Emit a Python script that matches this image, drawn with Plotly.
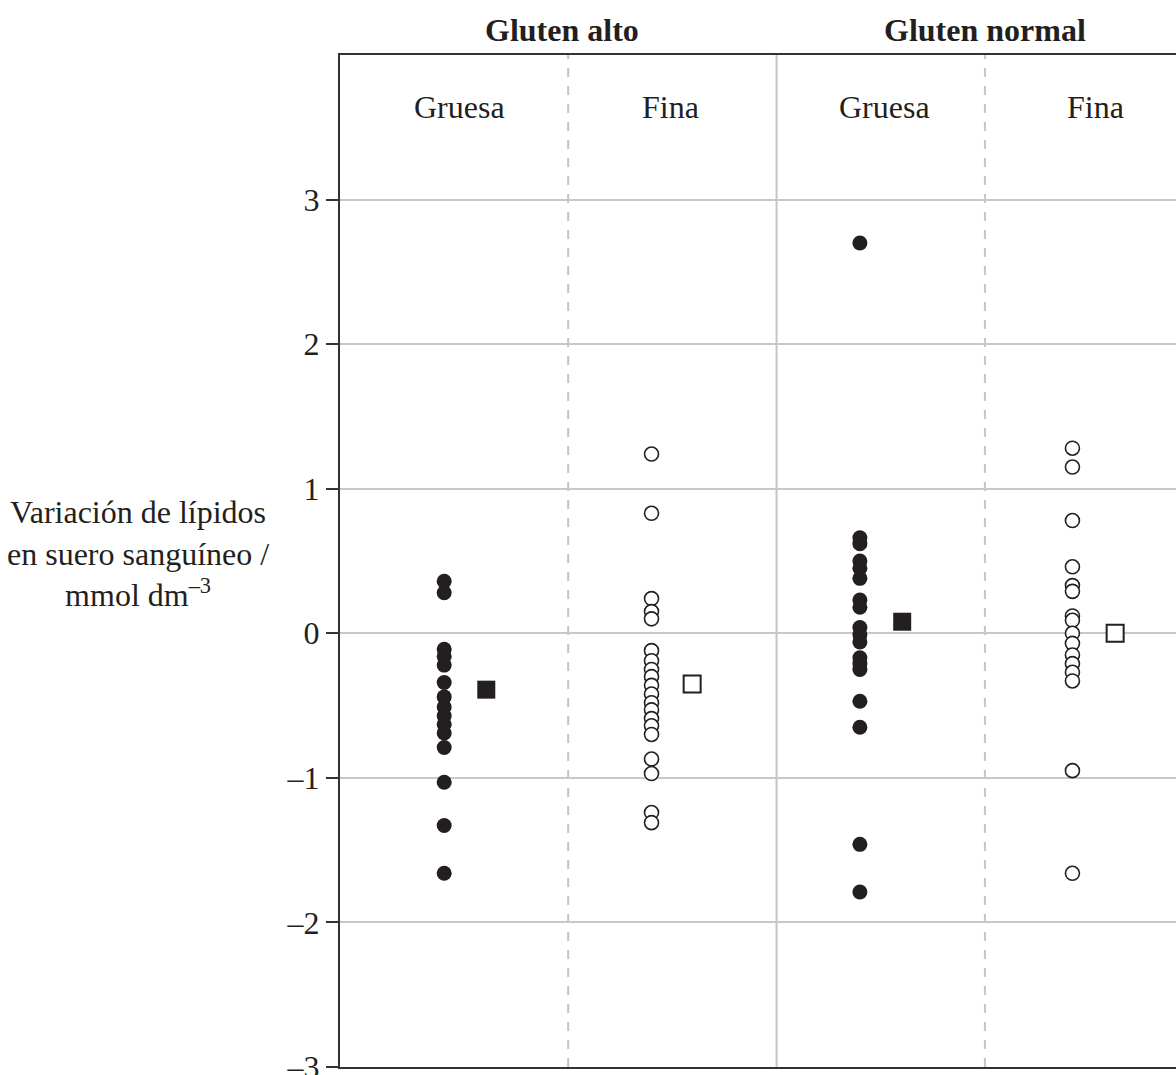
import plotly.graph_objects as go

# ---- data ----
groups = ["Gluten alto", "Gluten normal"]
subgroups = ["Gruesa", "Fina", "Gruesa", "Fina"]
alto_gruesa = [0.36, 0.28, -0.11, -0.16, -0.22, -0.34, -0.44, -0.51, -0.57,
               -0.63, -0.69, -0.79, -1.03, -1.33, -1.66]
alto_fina = [1.24, 0.83, 0.24, 0.15, 0.10, -0.12, -0.19, -0.25, -0.30, -0.36,
             -0.42, -0.48, -0.53, -0.59, -0.64, -0.70, -0.87, -0.97, -1.24, -1.31]
normal_gruesa = [2.70, 0.66, 0.62, 0.50, 0.45, 0.38, 0.23, 0.18, 0.04, -0.01,
                 -0.06, -0.17, -0.21, -0.25, -0.47, -0.65, -1.46, -1.79]
normal_fina = [1.28, 1.15, 0.78, 0.46, 0.33, 0.29, 0.12, 0.09, 0.0, -0.07,
               -0.15, -0.21, -0.27, -0.33, -0.95, -1.66]
means = [-0.39, -0.35, 0.08, 0.0]
ytick_vals = [-3, -2, -1, 0, 1, 2, 3]
ytick_text = ["\u20133", "\u20132", "\u20131", "0", "1", "2", "3"]

series = [alto_gruesa, alto_fina, normal_gruesa, normal_fina]
filled = [True, False, True, False]

# ---- layout positions (styles) ----
pt_x = [0.405, 1.40, 2.40, 3.42]
mean_x = [0.607, 1.595, 2.603, 3.625]
label_x = [0.48, 1.49, 2.52, 3.53]
group_x = [0.97, 3.0]
INK = "#231f20"
FONT = "Liberation Serif"
FS = 32

fig = go.Figure()
for vals, fx, px_, mx, m in zip(series, filled, pt_x, mean_x, means):
    fig.add_trace(go.Scatter(
        x=[px_] * len(vals), y=vals, mode="markers",
        marker=dict(symbol="circle", size=15 if fx else 14,
                    color=INK if fx else "white",
                    line=dict(color=INK, width=0 if fx else 1.6)),
        showlegend=False, hoverinfo="y"))
    fig.add_trace(go.Scatter(
        x=[mx], y=[m], mode="markers",
        marker=dict(symbol="square", size=18 if fx else 17,
                    color=INK if fx else "white",
                    line=dict(color=INK, width=0 if fx else 2)),
        showlegend=False, hoverinfo="y"))

# dividers
for xv, dash in [(1, "dash"), (2, "solid"), (3, "dash")]:
    fig.add_shape(type="line", xref="x", yref="paper", x0=xv, x1=xv, y0=0, y1=1,
                  line=dict(color="#c4c4c4", width=2, dash=dash), layer="below")

for lx, t in zip(label_x, subgroups):
    fig.add_annotation(x=lx, y=3.64, xref="x", yref="y", text=t, showarrow=False,
                       font=dict(family=FONT, size=FS, color=INK))
for gx, t in zip(group_x, groups):
    fig.add_annotation(x=gx, y=1.0247, xref="x", yref="paper", text="<b>" + t + "</b>",
                       showarrow=False, yanchor="middle",
                       font=dict(family=FONT, size=FS, color=INK))

fig.add_annotation(
    x=(138 - 340) / 836, y=0.55, xref="paper", yref="y",
    text="Variación de lípidos<br>en suero sanguíneo /<br>mmol dm<sup>\u20133</sup>",
    showarrow=False, xanchor="center", yanchor="middle", align="center",
    font=dict(family=FONT, size=FS, color=INK))

fig.update_layout(
    width=1176, height=1075,
    margin=dict(l=340, r=0, t=55, b=8),
    plot_bgcolor="white", paper_bgcolor="white",
    xaxis=dict(range=[-0.095, 3.917], showgrid=False, zeroline=False,
               showticklabels=False, ticks="", showline=True, mirror=True,
               linecolor="#333333", linewidth=2, fixedrange=True, automargin=False),
    yaxis=dict(range=[-3, 4], tickvals=ytick_vals, ticktext=ytick_text,
               showgrid=True, gridcolor="#c8c8c8", gridwidth=1.5, zeroline=False,
               showline=True, linecolor="#333333", linewidth=2,
               ticks="outside", ticklen=12, tickwidth=2, tickcolor="#333333",
               ticklabeloverflow="allow", automargin=False,
               tickfont=dict(family=FONT, size=FS, color=INK), fixedrange=True),
)

fig.write_html("out.html", config={"displayModeBar": False},
               post_script="document.body.style.margin='0';document.body.style.overflow='hidden';")
